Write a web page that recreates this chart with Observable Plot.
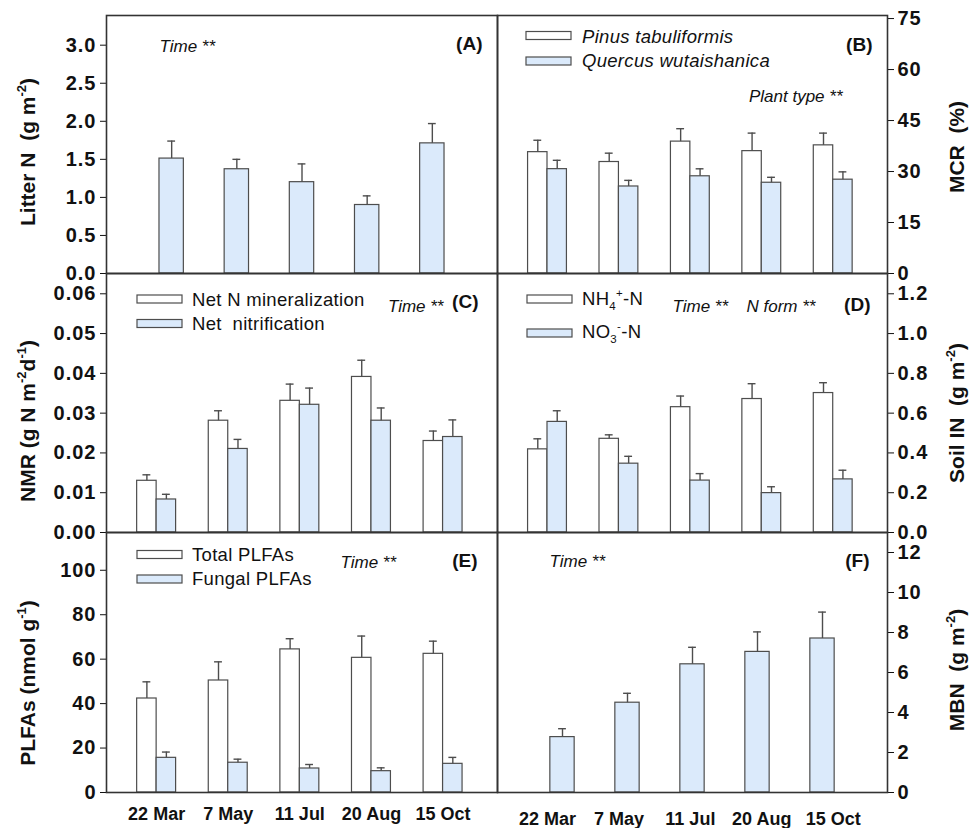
<!DOCTYPE html>
<html>
<head>
<meta charset="utf-8">
<script src="https://cdn.jsdelivr.net/npm/d3@7"></script>
<script src="https://cdn.jsdelivr.net/npm/@observablehq/plot@0.6"></script>
<style>
html, body { margin: 0; padding: 0; background: #fff; }
#fig { position: relative; width: 969px; height: 828px; overflow: hidden; }
#fig > svg { position: absolute; }
#fig text { white-space: pre; }
#fig g[aria-label="y-axis tick label"] text, #fig g[aria-label="y-axis"] text { letter-spacing: 1px; }
</style>
</head>
<body>
<div id="fig"></div>
<script>
// ---------- data ----------
const dates = ["22 Mar", "7 May", "11 Jul", "20 Aug", "15 Oct"];

const litterN   = [1.51, 1.37, 1.20, 0.90, 1.71];
const litterNSe = [0.23, 0.13, 0.24, 0.12, 0.26];

const mcrPinus     = [35.7, 32.8, 38.8, 36.0, 37.7];
const mcrPinusSe   = [3.5, 2.6, 3.8, 5.3, 3.6];
const mcrQuercus   = [30.7, 25.6, 28.6, 26.7, 27.6];
const mcrQuercusSe = [2.6, 1.8, 2.2, 1.6, 2.3];

const netMin   = [0.0130, 0.0281, 0.0331, 0.0391, 0.0230];
const netMinSe = [0.0015, 0.0025, 0.0042, 0.0042, 0.0025];
const netNit   = [0.0083, 0.0210, 0.0321, 0.0281, 0.0240];
const netNitSe = [0.0013, 0.0024, 0.0042, 0.0032, 0.0043];

const nh4   = [0.418, 0.471, 0.630, 0.671, 0.701];
const nh4Se = [0.053, 0.020, 0.056, 0.077, 0.052];
const no3   = [0.556, 0.346, 0.261, 0.198, 0.267];
const no3Se = [0.056, 0.037, 0.035, 0.032, 0.046];

const plfaTotal    = [42.3, 50.4, 64.4, 60.6, 62.4];
const plfaTotalSe  = [7.5, 8.4, 4.8, 9.8, 5.7];
const plfaFungal   = [15.6, 13.4, 10.8, 9.6, 12.9];
const plfaFungalSe = [2.6, 1.6, 1.8, 1.5, 2.9];

const mbn   = [2.77, 4.49, 6.41, 7.03, 7.70];
const mbnSe = [0.42, 0.47, 0.85, 1.00, 1.32];

const ticksA = [0, 0.5, 1.0, 1.5, 2.0, 2.5, 3.0];
const ticksB = [0, 15, 30, 45, 60, 75];
const ticksC = [0, 0.01, 0.02, 0.03, 0.04, 0.05, 0.06];
const ticksD = [0, 0.2, 0.4, 0.6, 0.8, 1.0, 1.2];
const ticksE = [0, 20, 40, 60, 80, 100];
const ticksF = [0, 2, 4, 6, 8, 10, 12];

// ---------- style ----------
const FONT = '"Liberation Sans", Arial, Helvetica, sans-serif';
const INK = "#111";
const EDGE = "#4d4d4d";
const FRAME = "#333";
const BLUE = "#dbeafb";

const PAIR_DOMAIN = [-0.70, 4.76];
const SINGLE_DOMAIN = [-1, 5];
const PAIR_W = 0.272, PAIR_CAP = 0.055;
const SINGLE_HALF = 0.187, SINGLE_CAP = 0.06;

const ROW_TOP = [15, 273, 532], ROW_BOT = [273, 532, 792];
const fig = document.getElementById("fig");

function pairMarks(a, aSe, b, bSe) {
  const white = dates.map((d, i) => ({x1: i - PAIR_W, x2: i, c: i - PAIR_W / 2, v: a[i], top: a[i] + aSe[i]}));
  const blue  = dates.map((d, i) => ({x1: i, x2: i + PAIR_W, c: i + PAIR_W / 2, v: b[i], top: b[i] + bSe[i]}));
  const all = white.concat(blue);
  return [
    Plot.rect(white, {x1: "x1", x2: "x2", y1: 0, y2: "v", fill: "white", stroke: EDGE, strokeWidth: 1.2}),
    Plot.rect(blue, {x1: "x1", x2: "x2", y1: 0, y2: "v", fill: BLUE, stroke: EDGE, strokeWidth: 1.2}),
    Plot.ruleX(all, {x: "c", y1: "v", y2: "top", stroke: EDGE, strokeWidth: 1.4}),
    Plot.ruleY(all, {x1: d => d.c - PAIR_CAP, x2: d => d.c + PAIR_CAP, y: "top", stroke: EDGE, strokeWidth: 1.4})
  ];
}
function singleMarks(a, aSe) {
  const rows = dates.map((d, i) => ({x1: i - SINGLE_HALF, x2: i + SINGLE_HALF, c: i, v: a[i], top: a[i] + aSe[i]}));
  return [
    Plot.rect(rows, {x1: "x1", x2: "x2", y1: 0, y2: "v", fill: BLUE, stroke: EDGE, strokeWidth: 1.2}),
    Plot.ruleX(rows, {x: "c", y1: "v", y2: "top", stroke: EDGE, strokeWidth: 1.4}),
    Plot.ruleY(rows, {x1: d => d.c - SINGLE_CAP, x2: d => d.c + SINGLE_CAP, y: "top", stroke: EDGE, strokeWidth: 1.4})
  ];
}
const note = (txt, anchor, dx, dy) => Plot.text([txt], {
  frameAnchor: anchor, dx, dy, text: d => d,
  textAnchor: anchor.endsWith("left") ? "start" : "end",
  fontFamily: FONT, fontSize: 17, fontStyle: "italic", fontWeight: "normal", fill: INK
});
const tag = (txt, dx, dy) => Plot.text([txt], {
  frameAnchor: "top-right", dx, dy, text: d => d, textAnchor: "end",
  fontFamily: FONT, fontSize: 19, fontWeight: "bold", fill: INK
});
const dateLabels = (dy) => Plot.text(dates, {
  x: (d, i) => i, frameAnchor: "bottom", dy, text: d => d,
  fontFamily: FONT, fontSize: 18, fontWeight: "bold", fill: INK
});

function panel({side, row, xDomain, yDomain, yTicks, yFmt, marks, mB = 20}) {
  const left = side === "left";
  const mL = left ? 106 : 8, mR = left ? 8 : 80;
  const plotW = left ? 391 : 390;
  const mT = 20;
  const h = ROW_BOT[row] - ROW_TOP[row];
  const svg = Plot.plot({
    width: mL + plotW + mR, height: mT + h + mB,
    marginLeft: mL, marginRight: mR, marginTop: mT, marginBottom: mB,
    style: {fontFamily: FONT, fontSize: "20px", fontWeight: "bold", color: INK, background: "transparent", overflow: "visible"},
    x: {domain: xDomain, axis: null},
    y: {domain: yDomain, ticks: yTicks, tickFormat: yFmt, tickSize: 6, tickPadding: 4, axis: side, label: null},
    marks: [...marks, Plot.frame({stroke: FRAME, strokeWidth: 1.6})]
  });
  svg.style.left = (left ? 0 : 497 - mL) + "px";
  svg.style.top = (ROW_TOP[row] - mT) + "px";
  fig.appendChild(svg);
}

// (A) Litter N
panel({side: "left", row: 0, xDomain: SINGLE_DOMAIN, yDomain: [0, 3.39], yTicks: ticksA, yFmt: d3.format(".1f"),
  marks: [...singleMarks(litterN, litterNSe), note("Time **", "top-left", 53, 24), tag("(A)", -15, 21)]});
// (B) MCR
panel({side: "right", row: 0, xDomain: PAIR_DOMAIN, yDomain: [0, 75.9], yTicks: ticksB, yFmt: d3.format("d"),
  marks: [...pairMarks(mcrPinus, mcrPinusSe, mcrQuercus, mcrQuercusSe), note("Plant type **", "top-right", -45, 74), tag("(B)", -15, 22)]});
// (C) NMR
panel({side: "left", row: 1, xDomain: PAIR_DOMAIN, yDomain: [0, 0.0651], yTicks: ticksC, yFmt: d3.format(".2f"),
  marks: [...pairMarks(netMin, netMinSe, netNit, netNitSe), note("Time **", "top-right", -54, 26), tag("(C)", -19, 21)]});
// (D) Soil IN
panel({side: "right", row: 1, xDomain: PAIR_DOMAIN, yDomain: [0, 1.302], yTicks: ticksD, yFmt: d3.format(".1f"),
  marks: [...pairMarks(nh4, nh4Se, no3, no3Se), note("Time **", "top-left", 175, 26), note("N form **", "top-left", 249, 26), tag("(D)", -17, 24)]});
// (E) PLFAs
panel({side: "left", row: 2, xDomain: PAIR_DOMAIN, yDomain: [0, 117], yTicks: ticksE, yFmt: d3.format("d"), mB: 45,
  marks: [...pairMarks(plfaTotal, plfaTotalSe, plfaFungal, plfaFungalSe), note("Time **", "top-left", 234, 23), tag("(E)", -20, 21), dateLabels(27)]});
// (F) MBN
panel({side: "right", row: 2, xDomain: SINGLE_DOMAIN, yDomain: [0, 13], yTicks: ticksF, yFmt: d3.format("d"), mB: 45,
  marks: [...singleMarks(mbn, mbnSe), note("Time **", "top-left", 52, 22), tag("(F)", -18, 21)]});

// bottom date labels of panel F sit at the paired positions (as in panel E)
{
  const strip = Plot.plot({
    width: 478, height: 40, marginLeft: 8, marginRight: 80, marginTop: 0, marginBottom: 0,
    style: {fontFamily: FONT, fontSize: "18px", fontWeight: "bold", color: INK, background: "transparent", overflow: "visible"},
    x: {domain: PAIR_DOMAIN, axis: null},
    marks: [Plot.text(dates, {x: (d, i) => i, text: d => d, fontFamily: FONT, fontSize: 18, fontWeight: "bold", fill: INK})]
  });
  strip.style.left = "489px";
  strip.style.top = "799px";
  fig.appendChild(strip);
}

// ---------- axis titles and legends ----------
const ov = d3.select(fig).append("svg")
  .attr("width", 969).attr("height", 828)
  .style("left", "0px").style("top", "0px").style("pointer-events", "none")
  .attr("font-family", FONT).attr("fill", INK);

function rich(parts, size, weight, italic, spacing = 0) {
  const t = ov.append("text").attr("font-size", size).attr("font-weight", weight)
    .style("white-space", "pre").style("letter-spacing", spacing + "px");
  if (italic) t.attr("font-style", "italic");
  let shift = 0;
  for (const p of parts) {
    const [s, k] = p;
    const target = k === "sup" ? -0.42 * size : k === "sub" ? 0.25 * size : 0;
    const ts = t.append("tspan").attr("dy", target - shift).text(s);
    if (k) ts.attr("font-size", size * 0.62);
    shift = target;
  }
  return t;
}
function yTitle(x, y, parts) {
  rich(parts, 21, "bold").attr("text-anchor", "middle")
    .attr("transform", `translate(${x},${y}) rotate(-90)`);
}
yTitle(35, 152, [["Litter N  (g m"], ["-2", "sup"], [")"]]);
yTitle(35, 421, [["NMR (g N m"], ["-2", "sup"], ["d"], ["-1", "sup"], [")"]]);
yTitle(35, 683, [["PLFAs (nmol g"], ["-1", "sup"], [")"]]);
yTitle(964, 147, [["MCR  (%)"]]);
yTitle(964, 413, [["Soil IN  (g m"], ["-2", "sup"], [")"]]);
yTitle(964, 670, [["MBN  (g m"], ["-2", "sup"], [")"]]);

function legendItem(x, yMid, fill, tx, baseline, parts, italic) {
  ov.append("rect").attr("x", x).attr("y", yMid - 4).attr("width", 45).attr("height", 8)
    .attr("fill", fill).attr("stroke", EDGE).attr("stroke-width", 1.2);
  rich(parts, 18.5, "normal", italic, 0.3).attr("x", tx).attr("y", baseline);
}
legendItem(526, 35.5, "white", 582, 43, [["Pinus tabuliformis"]], true);
legendItem(526, 61, BLUE, 582, 67, [["Quercus wutaishanica"]], true);
legendItem(137, 299, "white", 192, 306, [["Net N mineralization"]]);
legendItem(137, 323.5, BLUE, 192, 330, [["Net  nitrification"]]);
legendItem(527, 299, "white", 582, 305, [["NH"], ["4", "sub"], ["+", "sup"], ["-N"]]);
legendItem(527, 333, BLUE, 582, 338, [["NO"], ["3", "sub"], ["-", "sup"], ["-N"]]);
legendItem(137, 554.5, "white", 192, 561, [["Total PLFAs"]]);
legendItem(137, 579, BLUE, 192, 585, [["Fungal PLFAs"]]);
</script>
</body>
</html>
